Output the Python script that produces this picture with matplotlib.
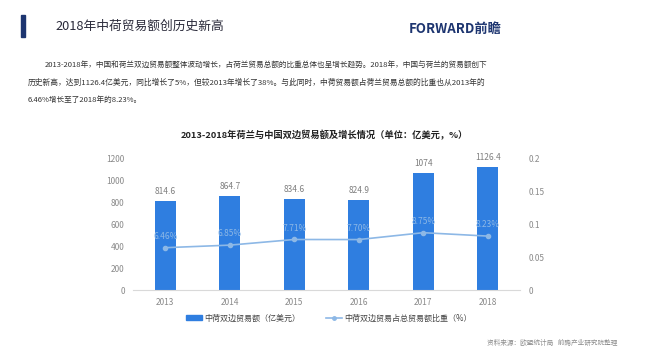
import matplotlib
matplotlib.use("Agg")
import matplotlib.pyplot as plt
from matplotlib.lines import Line2D
from matplotlib.patches import Patch

plt.rcParams['font.family'] = ['Noto Sans CJK SC', 'DejaVu Sans']

years = ['2013', '2014', '2015', '2016', '2017', '2018']
trade = [814.6, 864.7, 834.6, 824.9, 1074, 1126.4]
trade_labels = ['814.6', '864.7', '834.6', '824.9', '1074', '1126.4']
share = [0.0646, 0.0685, 0.0771, 0.0770, 0.0875, 0.0823]
share_labels = ['6.46%', '6.85%', '7.71%', '7.70%', '8.75%', '8.23%']
left_ticks = [0, 200, 400, 600, 800, 1000, 1200]
right_ticks = [0, 0.05, 0.1, 0.15, 0.2]
right_tick_labels = ['0', '0.05', '0.1', '0.15', '0.2']

page_title = '2018年中荷贸易额创历史新高'
para_lines = [
    '2013-2018年，中国和荷兰双边贸易额整体波动增长，占荷兰贸易总额的比重总体也呈增长趋势。2018年，中国与荷兰的贸易额创下',
    '历史新高，达到1126.4亿美元，同比增长了5%，但较2013年增长了38%。与此同时，中荷贸易额占荷兰贸易总额的比重也从2013年的',
    '6.46%增长至了2018年的8.23%。',
]
chart_title = '2013-2018年荷兰与中国双边贸易额及增长情况（单位：亿美元，%）'
legend_bar = '中荷双边贸易额（亿美元）'
legend_line = '中荷双边贸易占总贸易额比重（%）'
source = '资料来源：欧盟统计局   前瞻产业研究院整理'

W, H = 650, 358
fig = plt.figure(figsize=(6.5, 3.58), dpi=100)
fig.patch.set_facecolor('white')

def fx(px):
    return px / W

def fy(py):
    return 1 - py / H

# header bar
fig.patches.append(plt.Rectangle((fx(21), fy(37)), fx(3.5), (37 - 15) / H,
                                 transform=fig.transFigure, color='#1d3570', zorder=5))
fig.text(fx(55), fy(26), page_title, fontsize=9.2, color='#2a2a3a', va='center', ha='left')
fig.text(fx(502), fy(29), 'FORWARD前瞻', fontsize=9.5, fontweight='bold', color='#1d3570',
         va='center', ha='right')

# paragraph
fig.text(fx(45), fy(65), para_lines[0], fontsize=5.5, color='#333333', va='center', ha='left')
fig.text(fx(28), fy(83), para_lines[1], fontsize=5.6, color='#333333', va='center', ha='left')
fig.text(fx(28), fy(100), para_lines[2], fontsize=5.5, color='#333333', va='center', ha='left')

# chart title
fig.text(fx(324), fy(135), chart_title, fontsize=6.7, fontweight='bold', color='#222222',
         va='center', ha='center')

ax = fig.add_axes([fx(133), fy(290), fx(520 - 133), (290 - 159) / H])
x = list(range(len(years)))
bar_color = '#2f7ee0'
line_color = '#8db8e6'
ax.bar(x, trade, width=0.32, color=bar_color, zorder=2)
ax.set_xlim(-0.5, len(years) - 0.5)
ax.set_ylim(0, 1200)
ax.set_yticks(left_ticks)
ax.set_xticks(x)
ax.set_xticklabels(years)
for s in ['top', 'right', 'left']:
    ax.spines[s].set_visible(False)
ax.spines['bottom'].set_color('#d9d9d9')
ax.tick_params(axis='both', length=0, labelsize=6, labelcolor='#8a8a8a')
ax.tick_params(axis='x', pad=6)
ax.tick_params(axis='y', pad=6)
for xi, v, lab in zip(x, trade, trade_labels):
    ax.annotate(lab, (xi, v), xytext=(0, 3.5), textcoords='offset points',
                ha='center', va='bottom', fontsize=6, color='#7f7f7f')

ax2 = ax.twinx()
ax2.plot(x, share, color=line_color, lw=1.2, marker='o', ms=3, zorder=3)
ax2.set_ylim(0, 0.2)
ax2.set_yticks(right_ticks)
ax2.set_yticklabels(right_tick_labels)
for s in ['top', 'right', 'left', 'bottom']:
    ax2.spines[s].set_visible(False)
ax2.tick_params(axis='y', length=0, labelsize=6, labelcolor='#8a8a8a', pad=6)
for xi, v, lab in zip(x, share, share_labels):
    ax2.annotate(lab, (xi, v), xytext=(0, 5), textcoords='offset points',
                 ha='center', va='bottom', fontsize=6, color=line_color)

handles = [Patch(color=bar_color), Line2D([0], [0], color=line_color, lw=1.2, marker='o', ms=2.5)]
fig.legend(handles, [legend_bar, legend_line], loc='center', bbox_to_anchor=(fx(329), fy(318)),
           ncol=2, frameon=False, fontsize=5.8, labelcolor='#444444', handlelength=2.0,
           handleheight=0.5, columnspacing=3.2, handletextpad=0.3)

fig.text(fx(617), fy(343), source, fontsize=4.8, color='#8c8c8c', va='center', ha='right')

fig.savefig('out.png', dpi=100)
